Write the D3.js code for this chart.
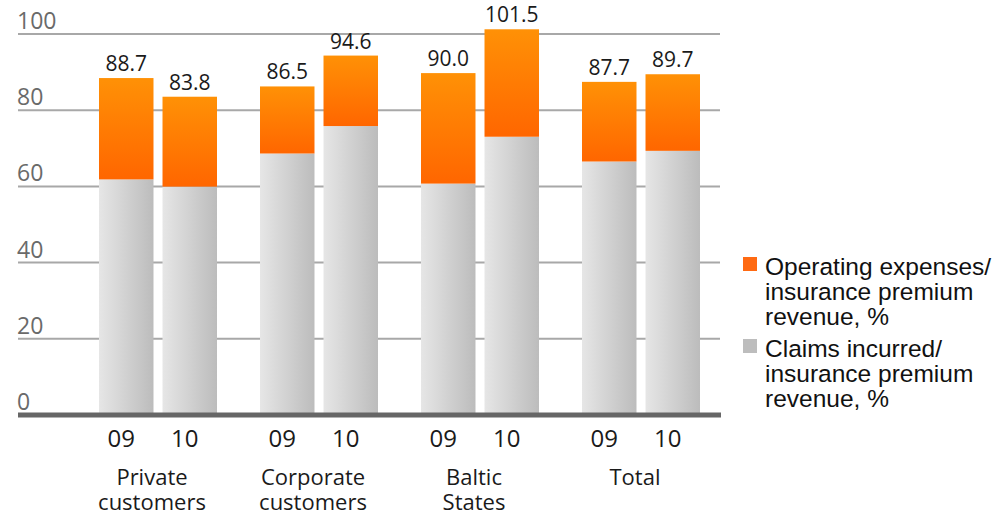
<!DOCTYPE html>
<html>
<head>
<meta charset="utf-8">
<script src="https://cdn.jsdelivr.net/npm/d3@7"></script>
<style>
  html, body { margin: 0; padding: 0; background: #fff; }
  svg { display: block; }
</style>
</head>
<body>
<svg id="chart" width="1000" height="516"></svg>
<script>
// Segments, years and values
const groups = ["Private customers", "Corporate customers", "Baltic States", "Total"];
const groupLines = [["Private", "customers"], ["Corporate", "customers"], ["Baltic", "States"], ["Total"]];
const years = ["09", "10"];
const combined09 = [88.7, 86.5, 90.0, 87.7];   // combined ratio (label above bar)
const combined10 = [83.8, 94.6, 101.5, 89.7];
const claims09 = [62.1, 68.9, 61.0, 66.8];     // claims incurred / premium revenue
const claims10 = [60.2, 76.1, 73.3, 69.6];
const yTicks = [0, 20, 40, 60, 80, 100];
const legendItems = [
  { key: "opex", lines: ["Operating expenses/", "insurance premium", "revenue, %"] },
  { key: "claims", lines: ["Claims incurred/", "insurance premium", "revenue, %"] }
];

const rows = [];
groups.forEach((g, i) => {
  [[years[0], combined09[i], claims09[i]], [years[1], combined10[i], claims10[i]]].forEach(([yr, tot, cl]) => {
    rows.push({ group: g, year: yr, total: tot, claims: cl, opex: +(tot - cl).toFixed(1) });
  });
});

const svg = d3.select("#chart");

const y = d3.scaleLinear().domain([0, 100]).range([416, 35]);
const x0 = d3.scaleBand().domain(groups).range([77.5, 721.5]);
const x1 = d3.scaleBand().domain(years).range([21.5, 139.5]).paddingInner(0.142);
const barX = d => x0(d.group) + x1(d.year);

// gradients
const defs = svg.append("defs");
const og = defs.append("linearGradient").attr("id", "gOrange").attr("x1", 0).attr("y1", 0).attr("x2", 0).attr("y2", 1);
og.append("stop").attr("offset", "0%").attr("stop-color", "#ff9106");
og.append("stop").attr("offset", "100%").attr("stop-color", "#ff6600");
const gg = defs.append("linearGradient").attr("id", "gGray").attr("x1", 0).attr("y1", 0).attr("x2", 1).attr("y2", 0);
gg.append("stop").attr("offset", "0%").attr("stop-color", "#e6e6e6");
gg.append("stop").attr("offset", "100%").attr("stop-color", "#bcbcbc");

// gridlines
svg.append("g").selectAll("line").data(yTicks.filter(t => t > 0)).join("line")
  .attr("x1", 18).attr("x2", 720)
  .attr("y1", d => y(d) - 1).attr("y2", d => y(d) - 1)
  .attr("stroke", "#a8a8a8").attr("stroke-width", 2);

// y tick labels
svg.append("g").selectAll("text").data(yTicks).join("text")
  .attr("x", 17).attr("y", d => y(d) - 6)
  .attr("font-family", "'Open Sans', sans-serif").attr("font-size", 23)
  .attr("fill", "#6a6a6a")
  .text(d => d);

// bars: claims (bottom), operating expenses (top)
const bars = svg.append("g");
bars.selectAll("rect.claims").data(rows).join("rect").attr("class", "claims")
  .attr("x", barX).attr("width", x1.bandwidth())
  .attr("y", d => y(d.claims)).attr("height", d => y(0) - y(d.claims))
  .attr("fill", "url(#gGray)");
bars.selectAll("rect.opex").data(rows).join("rect").attr("class", "opex")
  .attr("x", barX).attr("width", x1.bandwidth())
  .attr("y", d => y(d.total)).attr("height", d => y(d.claims) - y(d.total))
  .attr("fill", "url(#gOrange)");

// value labels
svg.append("g").selectAll("text").data(rows).join("text")
  .attr("x", d => barX(d) + x1.bandwidth() / 2)
  .attr("y", d => y(d.total) - 7)
  .attr("text-anchor", "middle")
  .attr("font-family", "'Open Sans', sans-serif").attr("font-size", 21)
  .attr("fill", "#1a1a1a")
  .text(d => d.total.toFixed(1));

// baseline
svg.append("line")
  .attr("x1", 18).attr("x2", 721).attr("y1", y(0) - 1).attr("y2", y(0) - 1)
  .attr("stroke", "#666").attr("stroke-width", 5);

// year labels
svg.append("g").selectAll("text").data(rows).join("text")
  .attr("x", d => barX(d) + x1.bandwidth() / 2 - 5)
  .attr("y", 447)
  .attr("text-anchor", "middle")
  .attr("font-family", "'Open Sans', sans-serif").attr("font-size", 24)
  .attr("fill", "#1a1a1a")
  .text(d => d.year);

// group labels
const gl = svg.append("g").selectAll("text").data(groups).join("text")
  .attr("x", d => x0(d) + x0.bandwidth() / 2 - 6)
  .attr("y", 485)
  .attr("text-anchor", "middle")
  .attr("font-family", "'Open Sans', sans-serif").attr("font-size", 22)
  .attr("fill", "#1a1a1a");
gl.each(function(d, i) {
  d3.select(this).selectAll("tspan").data(groupLines[i]).join("tspan")
    .attr("x", x0(d) + x0.bandwidth() / 2 - 6)
    .attr("dy", (t, j) => j === 0 ? 0 : 25)
    .text(t => t);
});

// legend
const legendTop = [275, 357];
const swatch = { opex: "#ff6a12", claims: "#bdbdbd" };
const lg = svg.append("g").selectAll("g").data(legendItems).join("g")
  .attr("transform", (d, i) => `translate(743,${legendTop[i]})`);
lg.append("rect").attr("x", 0).attr("y", -18).attr("width", 14).attr("height", 14)
  .attr("fill", d => swatch[d.key]);
lg.append("text")
  .attr("font-family", "'Liberation Sans', Arial, sans-serif").attr("font-size", 24.5)
  .attr("fill", "#111")
  .selectAll("tspan").data(d => d.lines).join("tspan")
  .attr("x", 22).attr("y", (t, j) => j * 25)
  .text(t => t);
</script>
</body>
</html>
